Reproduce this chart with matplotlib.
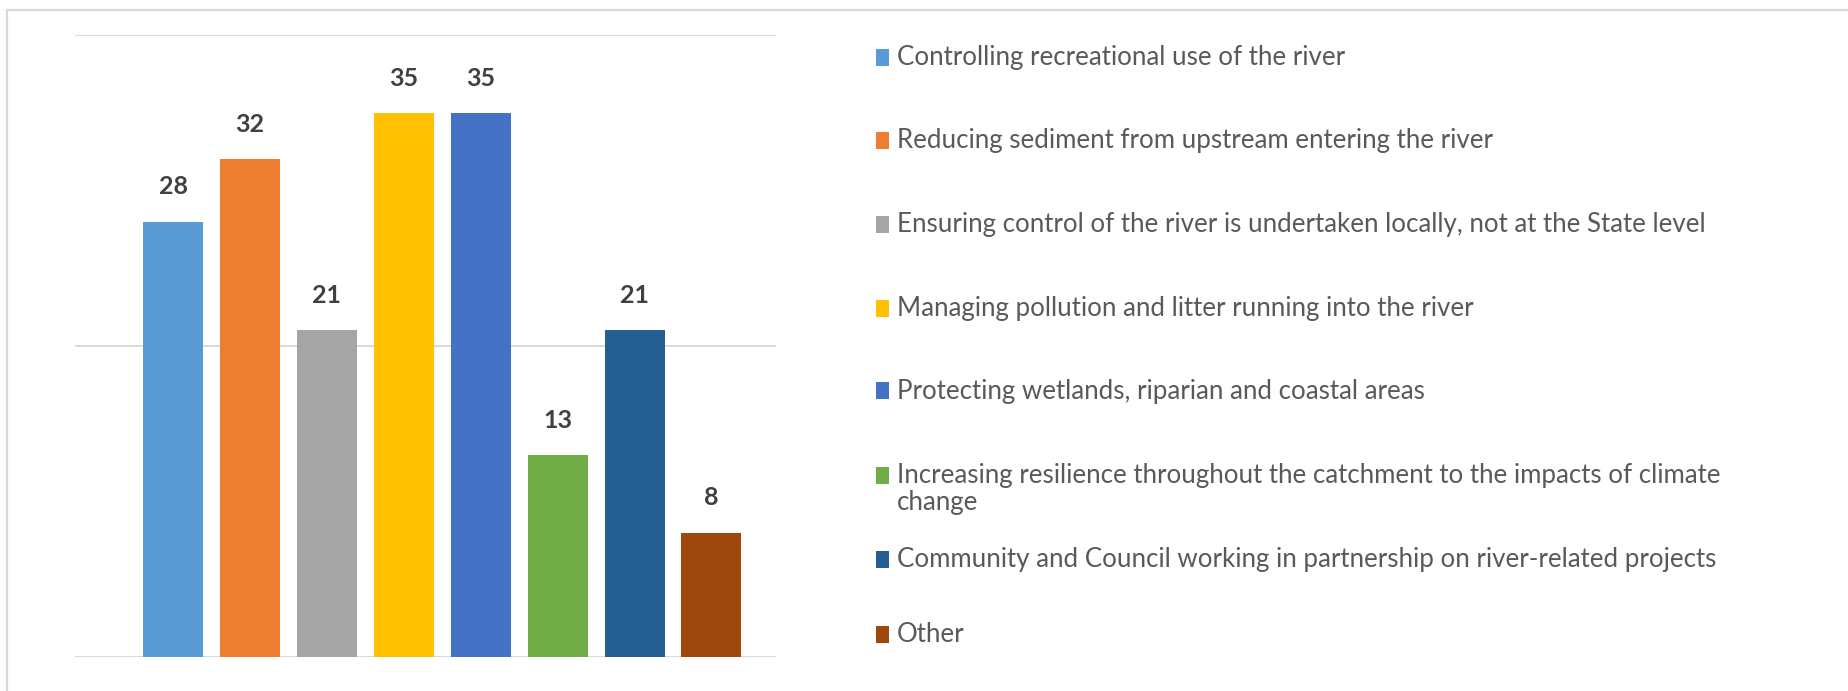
import matplotlib
matplotlib.use("Agg")
import matplotlib.pyplot as plt
from matplotlib.patches import Rectangle
from matplotlib.lines import Line2D

categories = [
    "Controlling recreational use of the river",
    "Reducing sediment from upstream entering the river",
    "Ensuring control of the river is undertaken locally, not at the State level",
    "Managing pollution and litter running into the river",
    "Protecting wetlands, riparian and coastal areas",
    "Increasing resilience throughout the catchment to the impacts of climate\nchange",
    "Community and Council working in partnership on river-related projects",
    "Other",
]
values = [28, 32, 21, 35, 35, 13, 21, 8]
colors = ["#5B9BD5", "#ED7D31", "#A5A5A5", "#FFC000", "#4472C4", "#70AD47", "#255E91", "#9E480E"]
gridlines = [0, 20, 40]

W, H = 1849, 691
FONT = ["Lato", "DejaVu Sans"]

fig = plt.figure(figsize=(W / 100, H / 100), dpi=100)
fig.patch.set_facecolor("white")

# outer frame (top & left visible)
fig.add_artist(Line2D([7 / W, 1.0], [1 - 10 / H, 1 - 10 / H], transform=fig.transFigure,
                      color="#D9D9D9", lw=1.6))
fig.add_artist(Line2D([7 / W, 7 / W], [0, 1 - 10 / H], transform=fig.transFigure,
                      color="#D9D9D9", lw=1.6))

ax_l, ax_r, ax_t, ax_b = 75, 776, 35, 657
ax = fig.add_axes([ax_l / W, 1 - ax_b / H, (ax_r - ax_l) / W, (ax_b - ax_t) / H])
x = list(range(len(values)))
ax.bar(x, values, width=0.78, color=colors, zorder=3)
ax.set_xlim(-1.277, 7.839)
ax.set_ylim(0, 40)
for g in gridlines:
    ax.axhline(g, color="#D9D9D9", lw=1.4, zorder=1)
for s in ax.spines.values():
    s.set_visible(False)
ax.set_xticks([])
ax.set_yticks([])
ax.patch.set_alpha(0)

for xi, v in zip(x, values):
    ax.annotate(str(v), (xi, v), xytext=(0, 25), textcoords="offset points",
                ha="center", va="center", fontsize=18, fontweight="bold",
                color="#404040", family=FONT)

# legend (manual)
row_y = [57, 140, 224, 308, 391, 475, 559, 634]
for cat, col, ry in zip(categories, colors, row_y):
    fig.add_artist(Rectangle((876 / W, 1 - (ry + 8.5) / H), 13 / W, 17 / H,
                             transform=fig.transFigure, color=col, lw=0))
    fig.text(897 / W, 1 - (ry - 12) / H, cat, ha="left", va="top",
             fontsize=18.6, color="#595959", family=FONT, linespacing=1.1)

fig.savefig("out.png", dpi=100, facecolor="white")
